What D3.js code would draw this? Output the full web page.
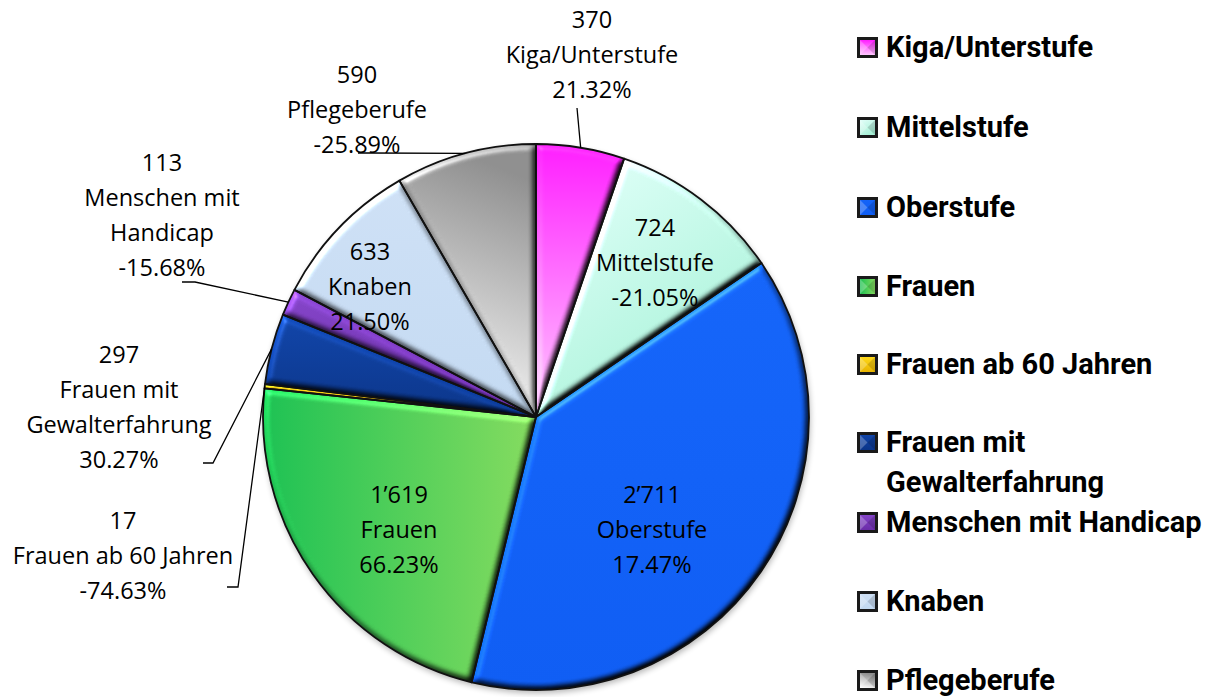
<!DOCTYPE html>
<html>
<head>
<meta charset="utf-8">
<script src="https://cdn.jsdelivr.net/npm/d3@7"></script>
<style>
  html, body { margin: 0; padding: 0; background: #ffffff; }
  svg { display: block; }
</style>
</head>
<body>
<svg id="chart" width="1218" height="697"></svg>
<script>
// Segments of the pie, clockwise from 12 o'clock
const categories = ["Kiga/Unterstufe", "Mittelstufe", "Oberstufe", "Frauen", "Frauen ab 60 Jahren",
  "Frauen mit Gewalterfahrung", "Menschen mit Handicap", "Knaben", "Pflegeberufe"];
const values = [370, 724, 2711, 1619, 17, 297, 113, 633, 590];
const changes = ["21.32%", "-21.05%", "17.47%", "66.23%", "-74.63%", "30.27%", "-15.68%", "21.50%", "-25.89%"];
// Wrapped category text for the data labels and the legend
const labelLines = [["Kiga/Unterstufe"], ["Mittelstufe"], ["Oberstufe"], ["Frauen"], ["Frauen ab 60 Jahren"],
  ["Frauen mit", "Gewalterfahrung"], ["Menschen mit", "Handicap"], ["Knaben"], ["Pflegeberufe"]];
const legendLines = [["Kiga/Unterstufe"], ["Mittelstufe"], ["Oberstufe"], ["Frauen"], ["Frauen ab 60 Jahren"],
  ["Frauen mit", "Gewalterfahrung"], ["Menschen mit Handicap"], ["Knaben"], ["Pflegeberufe"]];

// Fill ramps (start, end, direction) per segment
const fills = [
  { a: "#ff1cff", b: "#ffc8ff", dir: [0, 0, 0, 1] },
  { a: "#e4fffa", b: "#a6f0d6", dir: [0, 0, 0.6, 1] },
  { a: "#1464f8", b: "#0e5cf2", dir: [0, 0, 0, 1] },
  { a: "#1cc052", b: "#84da5e", dir: [0, 0, 1, 0] },
  { a: "#ffd81a", b: "#e8b400", dir: [0, 0, 0, 1] },
  { a: "#1044a8", b: "#0a3488", dir: [0, 0, 0, 1] },
  { a: "#8444c8", b: "#6a2ca8", dir: [0, 0, 0, 1] },
  { a: "#cddff4", b: "#c2d8f0", dir: [0, 0, 0, 1] },
  { a: "#8e8e8e", b: "#ffffff", dir: [0.3, 0, 0.1, 1] }
];

// Data label anchors; outside labels get a leader (elbow points) to their slice
const labelPos = [
  { x: 592, y: 20, elbow: [[577, 108]] },
  { x: 655, y: 228 },
  { x: 652, y: 495 },
  { x: 399, y: 495 },
  { x: 123, y: 521, elbow: [[227, 587], [238, 587]] },
  { x: 119, y: 355, elbow: [[203, 463], [213, 463]] },
  { x: 162, y: 163, elbow: [[182, 282], [195, 282]] },
  { x: 370, y: 252 },
  { x: 357, y: 75, elbow: [[358, 153], [370, 153]] }
];
const legendY = [47, 127, 207, 286, 364, 442, 522, 601, 680];

const fmt = v => d3.format(",")(v).replace(/,/g, "\u2019");

const svg = d3.select("#chart");
const cx = 536, cy = 417, R = 273;
const defs = svg.append("defs");

fills.forEach((f, i) => {
  const g = defs.append("linearGradient").attr("id", "fill" + i)
    .attr("x1", f.dir[0]).attr("y1", f.dir[1]).attr("x2", f.dir[2]).attr("y2", f.dir[3]);
  g.append("stop").attr("offset", 0).attr("stop-color", f.a);
  g.append("stop").attr("offset", 1).attr("stop-color", f.b);
});
defs.append("filter").attr("id", "soft").attr("x", "-10%").attr("y", "-10%").attr("width", "120%").attr("height", "120%")
  .append("feGaussianBlur").attr("stdDeviation", 3);

// Bevel: lit from the top left, interior left at its own colour
const bevel = defs.append("filter").attr("id", "bevel")
  .attr("color-interpolation-filters", "sRGB")
  .attr("x", "-5%").attr("y", "-5%").attr("width", "110%").attr("height", "110%");
bevel.append("feGaussianBlur").attr("in", "SourceAlpha").attr("stdDeviation", 3).attr("result", "blur");
bevel.append("feDiffuseLighting").attr("in", "blur").attr("surfaceScale", 4).attr("diffuseConstant", 1)
  .attr("lighting-color", "#ffffff").attr("result", "diff")
  .append("feDistantLight").attr("azimuth", 235).attr("elevation", 45);
bevel.append("feComposite").attr("in", "SourceGraphic").attr("in2", "diff").attr("operator", "arithmetic")
  .attr("k1", 1.414).attr("k2", 0).attr("k3", 0).attr("k4", 0).attr("result", "shaded");
bevel.append("feSpecularLighting").attr("in", "blur").attr("surfaceScale", 4).attr("specularConstant", 0.6)
  .attr("specularExponent", 30).attr("lighting-color", "#ffffff").attr("result", "spec")
  .append("feDistantLight").attr("azimuth", 235).attr("elevation", 40);
bevel.append("feComposite").attr("in", "spec").attr("in2", "SourceAlpha").attr("operator", "in").attr("result", "specIn");
bevel.append("feComposite").attr("in", "shaded").attr("in2", "specIn").attr("operator", "arithmetic")
  .attr("k1", 0).attr("k2", 1).attr("k3", 0.3).attr("k4", 0).attr("result", "lit");
bevel.append("feComposite").attr("in", "lit").attr("in2", "SourceAlpha").attr("operator", "in");

const pie = d3.pie().sort(null).value(d => d)(values);
const arc = d3.arc().innerRadius(0).outerRadius(R);

const gPie = svg.append("g").attr("transform", `translate(${cx},${cy})`);

// Drop shadow under the pie
gPie.append("circle").attr("r", R).attr("cx", 1).attr("cy", 3)
  .attr("fill", "#000").attr("opacity", 0.3).attr("filter", "url(#soft)");

pie.forEach((d, i) => {
  gPie.append("path").attr("d", arc(d)).attr("fill", `url(#fill${i})`).attr("filter", "url(#bevel)");
});
pie.forEach(d => {
  gPie.append("path").attr("d", arc(d)).attr("fill", "none")
    .attr("stroke", "#111").attr("stroke-width", 1.8).attr("stroke-linejoin", "round");
});

// Leader lines run from the label elbow to the slice rim at its mid angle
const line = d3.line();
labelPos.forEach((p, i) => {
  if (!p.elbow) return;
  const a = (pie[i].startAngle + pie[i].endAngle) / 2;
  const end = [cx + R * Math.sin(a), cy - R * Math.cos(a)];
  svg.append("path").attr("d", line([...p.elbow, end])).attr("fill", "none")
    .attr("stroke", "#000").attr("stroke-width", 1.3);
});

// Data labels: value, category, change
const lh = 35;
labelPos.forEach((p, i) => {
  const lines = [fmt(values[i]), ...labelLines[i], changes[i]];
  const t = svg.append("text").attr("text-anchor", "middle")
    .attr("font-family", "'Open Sans', 'Noto Sans', sans-serif").attr("font-size", 23.5).attr("fill", "#000");
  lines.forEach((l, k) => {
    t.append("tspan").attr("x", p.x).attr("y", p.y + k * lh).attr("dy", "0.36em").text(l);
  });
});

// Legend
const leg = svg.append("g");
categories.forEach((c, i) => {
  const y = legendY[i];
  const m = leg.append("g").attr("transform", `translate(857,${y - 10})`);
  m.append("rect").attr("width", 21).attr("height", 21).attr("fill", "#1a1a1a");
  m.append("rect").attr("x", 3).attr("y", 3).attr("width", 15).attr("height", 15).attr("fill", `url(#fill${i})`);
  m.append("path").attr("d", "M3,3L10.5,10.5L3,18Z").attr("fill", "#fff").attr("opacity", 0.25);
  m.append("path").attr("d", "M18,3L10.5,10.5L18,18Z").attr("fill", "#000").attr("opacity", 0.15);
  const t = leg.append("text").attr("font-family", "Roboto, 'Noto Sans', sans-serif").attr("font-weight", 700)
    .attr("font-size", 29).attr("fill", "#000");
  legendLines[i].forEach((l, k) => {
    t.append("tspan").attr("x", 886).attr("y", y + k * 40).attr("dy", "0.36em").text(l);
  });
});
</script>
</body>
</html>
